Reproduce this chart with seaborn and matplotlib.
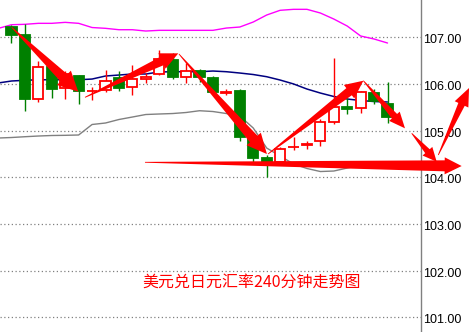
import numpy as np
import pandas as pd
import matplotlib
matplotlib.use("Agg")
import matplotlib.pyplot as plt
from matplotlib.patches import Polygon
from matplotlib.transforms import IdentityTransform, ScaledTranslation, blended_transform_factory
import seaborn as sns

# USD/JPY 240-minute bars
opens = [107.214, 107.056, 105.672, 106.370, 105.907, 106.171, 105.842, 105.864,
         106.121, 105.929, 106.106, 106.214, 106.514, 106.156, 106.284, 106.121,
         105.814, 105.849, 104.870, 104.420, 104.328, 104.642, 104.700, 104.772,
         105.179, 105.513, 105.479, 105.807, 105.571]
highs = [107.264, 107.279, 106.492, 106.420, 106.278, 106.192, 105.929, 106.299,
         106.278, 106.406, 106.235, 106.728, 106.664, 106.449, 106.321, 106.171,
         105.886, 105.886, 104.890, 104.478, 104.656, 104.870, 104.778, 105.249,
         106.556, 105.693, 105.856, 105.886, 106.049]
lows = [106.884, 105.427, 105.620, 105.706, 105.672, 105.577, 105.657, 105.834,
        105.856, 105.770, 106.014, 106.186, 106.106, 106.027, 106.042, 105.806,
        105.757, 104.784, 104.334, 104.013, 104.300, 104.585, 104.600, 104.677,
        105.136, 105.350, 105.372, 105.571, 105.157]
closes = [107.056, 105.672, 106.370, 105.899, 106.214, 105.856, 105.852, 106.064,
          105.920, 106.106, 106.156, 106.529, 106.156, 106.278, 106.156, 105.834,
          105.824, 104.870, 104.420, 104.334, 104.600, 104.656, 104.714, 105.179,
          105.500, 105.470, 105.821, 105.635, 105.299]

# Bollinger bands, starting one bar before the first candle
band_upper = [107.190, 107.270, 107.279, 107.300, 107.300, 107.321, 107.300, 107.210,
              107.193, 107.163, 107.163, 107.135, 107.150, 107.150, 107.150, 107.150,
              107.150, 107.199, 107.221, 107.328, 107.478, 107.579, 107.600, 107.600,
              107.521, 107.392, 107.242, 107.028, 106.964, 106.878]
band_mid = [106.021, 106.064, 106.079, 106.091, 106.091, 106.091, 106.091, 106.106,
            106.171, 106.192, 106.214, 106.214, 106.257, 106.263, 106.263, 106.263,
            106.278, 106.263, 106.235, 106.203, 106.156, 106.085, 106.001, 105.892,
            105.806, 105.732, 105.678, 105.646, 105.624, 105.614]
band_lower = [104.842, 104.853, 104.870, 104.885, 104.896, 104.900, 104.907, 105.132,
              105.164, 105.239, 105.292, 105.346, 105.357, 105.367, 105.389, 105.427,
              105.410, 105.367, 105.314, 105.057, 104.628, 104.457, 104.286, 104.189,
              104.124, 104.135, 104.199, 104.264, 104.307, 104.328]

price_ticks = [101, 102, 103, 104, 105, 106, 107]
tick_labels = ["101.00", "102.00", "103.00", "104.00", "105.00", "106.00", "107.00"]
title = "美元兑日元汇率240分钟走势图"

# trend arrows: (bar, price) tail -> (bar, price) tip
trend_arrows = [
    (0.015, 107.214, 4.974, 105.834),
    (5.473, 105.714, 12.42, 106.657),
    (12.47, 106.642, 19.02, 104.499),
    (19.10, 104.499, 26.20, 106.070),
    (26.20, 106.070, 29.30, 105.050),
    (29.80, 104.943, 31.66, 104.334),
    (31.78, 104.478, 34.07, 105.914),
    (9.94, 104.322, 33.52, 104.242),
]
# shaft width at head, head width, head length (pixels)
arrow_sizes = [(10, 20, 20), (9, 17, 18), (10, 19, 20), (9, 17, 18),
               (7, 14, 16), (6, 13, 14), (7, 15, 18), (11, 17, 17)]

sns.set_theme(style="white")
plt.rcParams["font.family"] = ["Liberation Sans", "DejaVu Sans"]

DPI = 100
fig = plt.figure(figsize=(4.69, 3.32), dpi=DPI)
fig.patch.set_facecolor("white")
ax = fig.add_axes([0, 0, 420.7 / 469, 1])
ax.set_facecolor("white")

bands = pd.DataFrame({
    "bar": np.arange(-1, len(band_upper) - 1),
    "upper": band_upper, "mid": band_mid, "lower": band_lower,
})
sns.lineplot(data=bands, x="bar", y="upper", color="#FF00FF", lw=1.0, ax=ax, zorder=2)
sns.lineplot(data=bands, x="bar", y="mid", color="#000080", lw=1.1, ax=ax, zorder=2)
sns.lineplot(data=bands, x="bar", y="lower", color="#808080", lw=1.0, ax=ax, zorder=2)

# candles
o = np.array(opens); c = np.array(closes)
h = np.array(highs); l = np.array(lows)
x = np.arange(len(o))
up = c >= o
edge = np.where(up, "#FF0000", "#008000")
face = np.where(up, "white", "#008000")
ax.vlines(x, l, h, colors=edge, lw=1.0, zorder=3)
bottom = np.minimum(o, c)
height = np.maximum(np.abs(c - o), 0.01)
ax.bar(x, height, bottom=bottom, width=0.76, color=face, edgecolor=edge,
       linewidth=1.3, zorder=4)

# dotted price grid
for p in price_ticks:
    ax.axhline(p, color="#808080", lw=0.9, ls=(0, (1, 2)), zorder=0)

ax.set_xlim(-0.856, 30.47)
ax.set_ylim(100.685, 107.80)
ax.set_xlabel("")
ax.set_ylabel("")
ax.set_xticks([])
ax.set_yticks([])
for side in ("top", "left", "bottom"):
    ax.spines[side].set_visible(False)
ax.spines["right"].set_color("#808080")
ax.spines["right"].set_linewidth(1.0)

# price labels to the right of the axis
lab_tr = blended_transform_factory(ax.transAxes, ax.transData) + \
    ScaledTranslation(2.5 / DPI, -3.0 / DPI, fig.dpi_scale_trans)
for p, t in zip(price_ticks, tick_labels):
    ax.text(1.0, p, t, transform=lab_tr, ha="left", va="center",
            fontsize=9, color="#000000", clip_on=False)

fig.text(252 / 469, 1 - 282 / 332, title, color="#FF0000", fontsize=11.5,
         family=["Noto Sans CJK SC", "DejaVu Sans"], ha="center", va="center")


def wedge_arrow(x0, y0, x1, y1, shaft, head_w, head_len):
    t = ax.transData.transform((x0, y0))
    p = ax.transData.transform((x1, y1))
    d = p - t
    u = d / np.hypot(*d)
    n = np.array([-u[1], u[0]])
    b = p - u * head_len
    pts = [t + n * 0.4, b + n * shaft / 2, b + n * head_w / 2, p,
           b - n * head_w / 2, b - n * shaft / 2, t - n * 0.4]
    poly = Polygon(pts, closed=True, facecolor="#FF0000", edgecolor="none",
                   transform=IdentityTransform(), clip_on=False, zorder=6)
    ax.add_artist(poly)


for (x0, y0, x1, y1), (sw, hw, hl) in zip(trend_arrows, arrow_sizes):
    wedge_arrow(x0, y0, x1, y1, sw, hw, hl)

fig.savefig("out.png", dpi=DPI)
